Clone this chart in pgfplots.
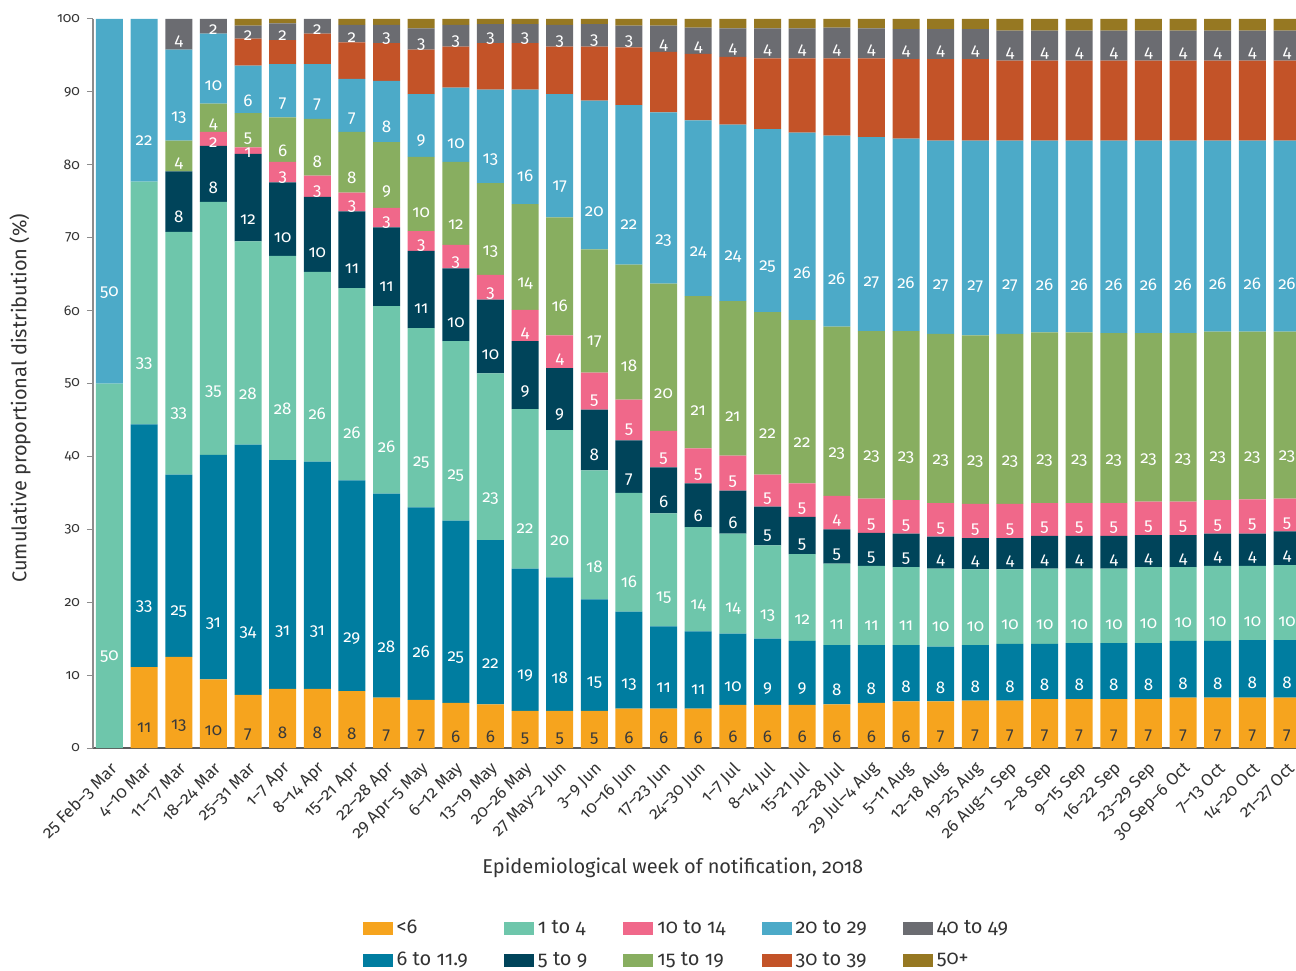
\documentclass[border=0pt]{standalone}
\usepackage{fontspec}
\setmainfont{Fira Sans}[Numbers=OldStyle]
\usepackage{pgfplots}
\usepackage{pgfplotstable}
\pgfplotsset{compat=1.18}
\definecolor{cA}{HTML}{F6A41E}
\definecolor{cB}{HTML}{007DA0}
\definecolor{cC}{HTML}{6EC6AB}
\definecolor{cD}{HTML}{00445A}
\definecolor{cE}{HTML}{F0688A}
\definecolor{cF}{HTML}{88AE60}
\definecolor{cG}{HTML}{4CAAC8}
\definecolor{cH}{HTML}{C35328}
\definecolor{cI}{HTML}{6B6C71}
\definecolor{cJ}{HTML}{967822}
\definecolor{txtdark}{HTML}{3A3A3A}

% x a la b lb c lc d ld e le f lf g lg h i li j
\pgfplotstableread{
x a la b lb c lc d ld e le f lf g lg h i li j
0 0 n 0 n 50 50 0 n 0 n 0 n 50 50 0 0 n 0
1 11.1 11 33.3 33 33.3 33 0 n 0 n 0 n 22.3 22 0 0 n 0
2 12.5 13 25.0 25 33.3 33 8.3 8 0 n 4.2 4 12.5 13 0 4.2 4 0
3 9.4 10 30.8 31 34.7 35 7.7 8 1.9 2 3.9 4 9.6 10 0 2.0 2 0
4 7.3 7 34.3 34 27.9 28 12.0 12 0.9 1 4.7 5 6.5 6 3.7 1.8 2 0.9
5 8.1 8 31.4 31 28.0 28 10.1 10 2.8 3 6.1 6 7.3 7 3.3 2.3 2 0.6
6 8.1 8 31.2 31 26.0 26 10.3 10 2.9 3 7.8 8 7.5 7 4.2 2.0 2 0
7 7.8 8 28.9 29 26.4 26 10.5 11 2.6 3 8.3 8 7.3 7 5.0 2.4 2 0.8
8 6.9 7 28.0 28 25.7 26 10.8 11 2.7 3 9.0 9 8.4 8 5.2 2.5 3 0.8
9 6.6 7 26.4 26 24.6 25 10.6 11 2.7 3 10.2 10 8.6 9 6.1 2.9 3 1.3
10 6.2 6 25.0 25 24.6 25 10.0 10 3.2 3 11.4 12 10.2 10 5.6 3.0 3 0.8
11 6.0 6 22.5 22 22.9 23 10.1 10 3.4 3 12.6 13 12.8 13 6.4 2.6 3 0.7
12 5.1 5 19.5 19 21.9 22 9.3 9 4.3 4 14.5 14 15.7 16 6.4 2.6 3 0.7
13 5.1 5 18.3 18 20.2 20 8.5 9 4.5 4 16.2 16 16.9 17 6.5 3.0 3 0.8
14 5.1 5 15.3 15 17.7 18 8.3 8 5.1 5 16.9 17 20.4 20 7.4 3.1 3 0.7
15 5.4 6 13.3 13 16.3 16 7.2 7 5.6 5 18.5 18 21.9 22 7.9 3.0 3 0.9
16 5.4 6 11.3 11 15.5 15 6.3 6 5.0 5 20.2 20 23.5 23 8.3 3.6 4 0.9
17 5.4 6 10.6 11 14.3 14 6.0 6 4.8 5 20.9 21 24.1 24 9.1 3.6 4 1.2
18 5.9 6 9.8 10 13.7 14 5.9 6 4.8 5 21.2 21 24.2 24 9.3 3.9 4 1.3
19 5.9 6 9.1 9 12.8 13 5.3 5 4.4 5 22.3 22 25.1 25 9.7 4.1 4 1.3
20 5.9 6 8.8 9 11.9 12 5.1 5 4.6 5 22.4 22 25.7 26 10.2 4.1 4 1.3
21 6.0 6 8.1 8 11.2 11 4.7 5 4.6 4 23.2 23 26.2 26 10.6 4.2 4 1.2
22 6.2 6 7.9 8 10.9 11 4.5 5 4.7 5 23.0 23 26.6 27 10.8 4.1 4 1.3
23 6.4 6 7.7 8 10.7 11 4.6 5 4.6 5 23.2 23 26.4 26 10.9 4.1 4 1.4
24 6.4 7 7.5 8 10.7 10 4.4 4 4.6 5 23.2 23 26.5 27 11.2 4.1 4 1.4
25 6.5 7 7.6 8 10.4 10 4.3 4 4.7 5 23.1 23 26.7 27 11.2 4.1 4 1.4
26 6.5 7 7.8 8 10.2 10 4.3 4 4.7 5 23.3 23 26.5 27 11.0 4.1 4 1.6
27 6.7 7 7.6 8 10.3 10 4.5 4 4.5 5 23.4 23 26.3 26 11.0 4.1 4 1.6
28 6.7 7 7.7 8 10.2 10 4.5 4 4.5 5 23.4 23 26.3 26 11.0 4.1 4 1.6
29 6.7 7 7.7 8 10.2 10 4.5 4 4.5 5 23.3 23 26.4 26 11.0 4.1 4 1.6
30 6.7 7 7.7 8 10.4 10 4.4 4 4.6 5 23.1 23 26.4 26 11.0 4.1 4 1.6
31 6.9 7 7.8 8 10.1 10 4.4 4 4.6 5 23.1 23 26.4 26 11.0 4.1 4 1.6
32 6.9 7 7.8 8 10.3 10 4.4 4 4.6 5 23.1 23 26.2 26 11.0 4.1 4 1.6
33 6.9 7 7.9 8 10.2 10 4.4 4 4.7 5 23.0 23 26.2 26 11.0 4.1 4 1.6
34 6.9 7 7.9 8 10.3 10 4.6 4 4.5 5 22.9 23 26.2 26 11.0 4.1 4 1.6
}\data

\def\nolab{n}
\newcommand\mylab{\edef\mylabtmp{\pgfplotspointmeta}\ifx\mylabtmp\nolab\else\mylabtmp\fi}

\pgfplotsset{
  lab/.style={
    point meta=explicit symbolic,
    nodes near coords={\mylab},
    visualization depends on={rawy \as \rawy},
    every node near coord/.append style={anchor=center, text=#1, inner sep=0pt,
      font=\fontsize{8.5}{9}\selectfont,
      shift={(axis direction cs:0,-\rawy/4)}},
  },
}

\begin{document}
\begin{tikzpicture}
\useasboundingbox (-46.5pt,-111pt) rectangle (601.5pt,374pt);
\begin{axis}[
  at={(0pt,0pt)}, anchor=south west,
  scale only axis, width=601.5pt, height=364.5pt,
  ybar stacked, bar width=13.5pt,
  xmin=-0.476, xmax=34.26, ymin=0, ymax=100,
  axis lines*=left,
  x axis line style={draw=black!65, line width=0.8pt},
  y axis line style={draw=black!45, line width=0.6pt},
  xtick={0,...,34},
  xticklabels={25 Feb--3 Mar, 4--10 Mar, 11--17 Mar, 18--24 Mar, 25--31 Mar, 1--7 Apr, 8--14 Apr, 15--21 Apr, 22--28 Apr, 29 Apr--5 May, 6--12 May, 13--19 May, 20--26 May, 27 May--2 Jun, 3--9 Jun, 10--16 Jun, 17--23 Jun, 24--30 Jun, 1--7 Jul, 8--14 Jul, 15--21 Jul, 22--28 Jul, 29 Jul--4 Aug, 5--11 Aug, 12--18 Aug, 19--25 Aug, 26 Aug--1 Sep, 2--8 Sep, 9--15 Sep, 16--22 Sep, 23--29 Sep, 30 Sep--6 Oct, 7--13 Oct, 14--20 Oct, 21--27 Oct},
  x tick style={draw=none},
  ytick={0,10,...,100},
  y tick style={draw=black!45, line width=0.5pt},
  tick align=outside, major tick length=3pt,
  /pgf/number format/assume math mode=true,
  ticklabel style={text=black!80},
  yticklabel style={font=\fontsize{7}{8}\selectfont},
  xticklabel style={font=\fontsize{8.5}{9}\selectfont, rotate=45, anchor=east, inner sep=1pt, xshift=-1.5pt, yshift=-6pt},
  xlabel={Epidemiological week of notification, 2018},
  ylabel={Cumulative proportional distribution (\%)},
  every axis x label/.style={at={(axis description cs:0.482,0)}, yshift=-60pt, anchor=center, font=\fontsize{10}{11}\selectfont, text=black!80},
  every axis y label/.style={at={(axis description cs:0,0.48)}, xshift=-36.5pt, rotate=90, anchor=center, font=\fontsize{10}{11}\selectfont, text=black!80},
  legend image code/.code={\fill[#1, draw=none] (0pt,-3.25pt) rectangle (15pt,3.25pt);},
  legend columns=5,
  legend cell align=left,
  legend style={draw=none, fill=none, at={(0.494,0)}, anchor=north, yshift=-82pt,
    font=\fontsize{10}{11}\selectfont, text=black!80, row sep=3.5pt,
    /tikz/every even column/.append style={column sep=16pt}},
]
\addplot[forget plot, fill=cA, draw=none, lab=txtdark] table[x=x,y=a,meta=la]{\data};
\addplot[forget plot, fill=cB, draw=none, lab=white] table[x=x,y=b,meta=lb]{\data};
\addplot[forget plot, fill=cC, draw=none, lab=white] table[x=x,y=c,meta=lc]{\data};
\addplot[forget plot, fill=cD, draw=none, lab=white] table[x=x,y=d,meta=ld]{\data};
\addplot[forget plot, fill=cE, draw=none, lab=white] table[x=x,y=e,meta=le]{\data};
\addplot[forget plot, fill=cF, draw=none, lab=white] table[x=x,y=f,meta=lf]{\data};
\addplot[forget plot, fill=cG, draw=none, lab=white] table[x=x,y=g,meta=lg]{\data};
\addplot[forget plot, fill=cH, draw=none] table[x=x,y=h]{\data};
\addplot[forget plot, fill=cI, draw=none, lab=white] table[x=x,y=i,meta=li]{\data};
\addplot[forget plot, fill=cJ, draw=none] table[x=x,y=j]{\data};
\addlegendimage{fill=cA, draw=none}\addlegendentry{<6}
\addlegendimage{fill=cC, draw=none}\addlegendentry{1 to 4}
\addlegendimage{fill=cE, draw=none}\addlegendentry{10 to 14}
\addlegendimage{fill=cG, draw=none}\addlegendentry{20 to 29}
\addlegendimage{fill=cI, draw=none}\addlegendentry{40 to 49}
\addlegendimage{fill=cB, draw=none}\addlegendentry{6 to 11.9}
\addlegendimage{fill=cD, draw=none}\addlegendentry{5 to 9}
\addlegendimage{fill=cF, draw=none}\addlegendentry{15 to 19}
\addlegendimage{fill=cH, draw=none}\addlegendentry{30 to 39}
\addlegendimage{fill=cJ, draw=none}\addlegendentry{50+}
\end{axis}
\end{tikzpicture}
\end{document}
